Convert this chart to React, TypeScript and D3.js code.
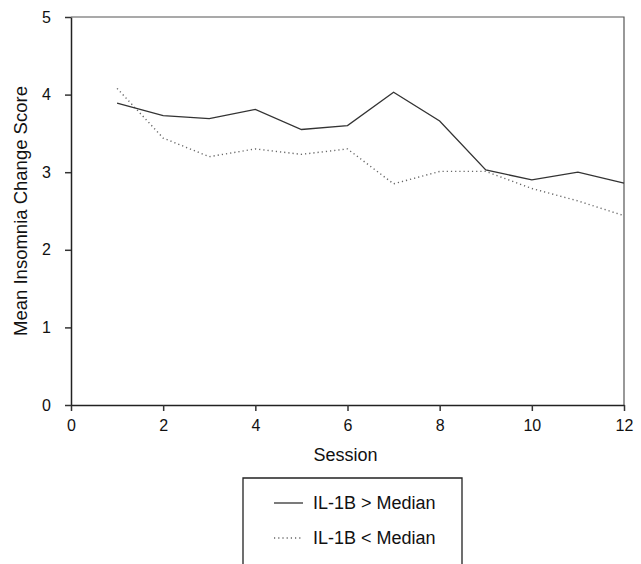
import React, { useEffect, useRef } from 'react';
import * as d3 from 'd3';

const sessions = [1, 2, 3, 4, 5, 6, 7, 8, 9, 10, 11, 12];
const highValues = [3.89, 3.73, 3.69, 3.81, 3.55, 3.6, 4.03, 3.66, 3.03, 2.9, 3.0, 2.86];
const lowValues = [4.08, 3.44, 3.2, 3.3, 3.23, 3.3, 2.85, 3.01, 3.01, 2.79, 2.63, 2.44];
const xTicks = [0, 2, 4, 6, 8, 10, 12];
const yTicks = [0, 1, 2, 3, 4, 5];
const legendLabels = ['IL-1B > Median', 'IL-1B < Median'];

const W = 641, H = 564;
const m = { left: 71, right: 17, top: 17, bottom: 159 };

const App = () => {
    const svgRef = useRef<SVGSVGElement>(null);

    useEffect(() => {
        const svg = d3.select(svgRef.current);
        svg.selectAll('*').remove();
        const font = 'Arial, "Liberation Sans", sans-serif';

        const x = d3.scaleLinear().domain([0, 12]).range([m.left, W - m.right]);
        const y = d3.scaleLinear().domain([0, 5]).range([H - m.bottom, m.top]);

        // frame (top + right)
        svg.append('path')
            .attr('d', `M${x(0)},${y(5)}H${x(12)}V${y(0)}`)
            .attr('fill', 'none').attr('stroke', '#555').attr('stroke-width', 1.2);

        const xAxis = svg.append('g')
            .attr('transform', `translate(0,${y(0)})`)
            .call(d3.axisBottom(x).tickValues(xTicks).tickFormat(d3.format('d')).tickSize(6).tickPadding(9).tickSizeOuter(0));
        const yAxis = svg.append('g')
            .attr('transform', `translate(${x(0)},0)`)
            .call(d3.axisLeft(y).tickValues(yTicks).tickFormat(d3.format('d')).tickSize(6).tickPadding(14).tickSizeOuter(0));

        [xAxis, yAxis].forEach(g => {
            g.select('.domain').attr('stroke', '#222').attr('stroke-width', 1.5);
            g.selectAll('.tick line').attr('stroke', '#333').attr('stroke-width', 1.5);
            g.selectAll('.tick text').attr('font-family', font).attr('font-size', 16).attr('fill', '#111');
        });

        const line = d3.line<number>()
            .x((d, i) => x(sessions[i]))
            .y(d => y(d));

        svg.append('path').datum(lowValues)
            .attr('d', line)
            .attr('fill', 'none').attr('stroke', '#666').attr('stroke-width', 1.4)
            .attr('stroke-dasharray', '1.2,3');

        svg.append('path').datum(highValues)
            .attr('d', line)
            .attr('fill', 'none').attr('stroke', '#333').attr('stroke-width', 1.3);

        svg.append('text')
            .attr('x', (x(0) + x(12)) / 2 - 2).attr('y', 461)
            .attr('text-anchor', 'middle')
            .attr('font-family', font).attr('font-size', 18).attr('fill', '#111')
            .text('Session');

        svg.append('text')
            .attr('transform', `translate(27,${(y(0) + y(5)) / 2}) rotate(-90)`)
            .attr('text-anchor', 'middle')
            .attr('font-family', font).attr('font-size', 18.5).attr('fill', '#111')
            .text('Mean Insomnia Change Score');

        // legend
        const lg = svg.append('g');
        lg.append('path')
            .attr('d', `M243,${H + 2}V478H462V${H + 2}`)
            .attr('fill', 'none').attr('stroke', '#222').attr('stroke-width', 1.3);
        legendLabels.forEach((lab, i) => {
            const ly = 503 + i * 35;
            lg.append('line')
                .attr('x1', 274).attr('x2', 303).attr('y1', ly).attr('y2', ly)
                .attr('stroke', i === 0 ? '#333' : '#666').attr('stroke-width', 1.3)
                .attr('stroke-dasharray', i === 0 ? null : '1.2,3');
            lg.append('text')
                .attr('x', 313).attr('y', ly).attr('dy', '0.35em')
                .attr('font-family', font).attr('font-size', 18).attr('fill', '#111')
                .text(lab);
        });
    }, []);

    return (
        <div>
            <svg ref={svgRef} width={W} height={H} style={{ position: 'absolute', left: 0, top: 0, background: '#fff' }}></svg>
        </div>
    );
};

export default App;
